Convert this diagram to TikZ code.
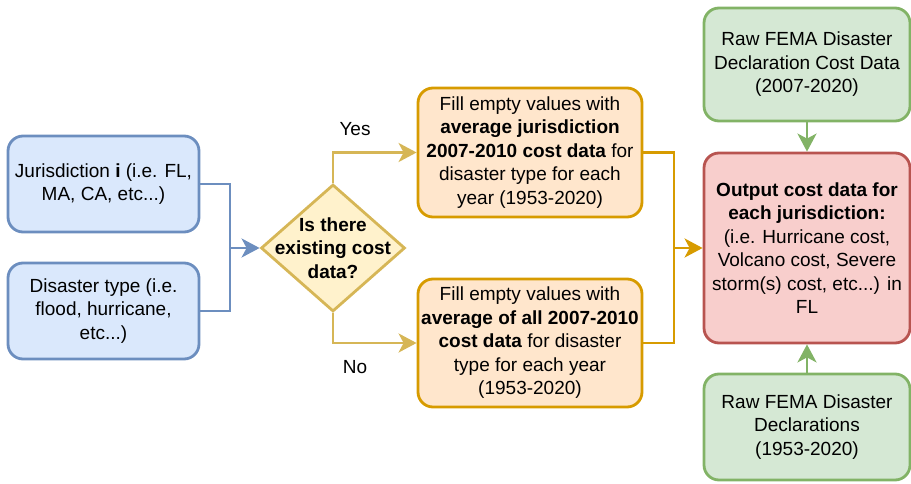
\documentclass[tikz,border=0pt]{standalone}
\usepackage{fontspec}
\setmainfont{Liberation Sans}
\usepackage{tikz}
\usetikzlibrary{shapes.geometric,arrows.meta,positioning,calc}
\usepackage{xcolor}
\definecolor{blueFill}{HTML}{DAE8FC}
\definecolor{blueLine}{HTML}{6C8EBF}
\definecolor{yellowFill}{HTML}{FFF2CC}
\definecolor{yellowLine}{HTML}{D6B656}
\definecolor{orangeFill}{HTML}{FFE6CC}
\definecolor{orangeLine}{HTML}{D79B00}
\definecolor{greenFill}{HTML}{D5E8D4}
\definecolor{greenLine}{HTML}{82B366}
\definecolor{redFill}{HTML}{F8CECC}
\definecolor{redLine}{HTML}{B85450}

\begin{document}
\begin{tikzpicture}[x=1pt, y=-1pt,
    >={Stealth[length=18pt,width=19pt,inset=5pt]},
    every node/.style={font=\fontsize{19}{23.5}\selectfont, align=center},
    box/.style={draw, rectangle, rounded corners=15pt, line width=2.8pt, inner sep=0pt},
    link/.style={line width=2.8pt}]
    \useasboundingbox (0,0) rectangle (911,484);

    % Inputs
    \node[box, draw=blueLine, fill=blueFill, minimum width=191pt, minimum height=96pt] (juris) at (103.5,184)
        {Jurisdiction \textbf{i} (i.e. FL,\\ MA, CA, etc...)};
    \node[box, draw=blueLine, fill=blueFill, minimum width=191pt, minimum height=96pt] (dtype) at (103.5,311)
        {Disaster type (i.e.\\ flood, hurricane,\\ etc...)};

    % Decision
    \node[diamond, draw=yellowLine, fill=yellowFill, line width=2.8pt, inner sep=0pt,
        minimum width=144pt, minimum height=127pt] (decide) at (333,248) {};
    \node (question) at (decide.center) {\textbf{Is there}\\ \textbf{existing cost}\\ \textbf{data?}};

    % Fill steps
    \node[box, draw=orangeLine, fill=orangeFill, minimum width=224pt, minimum height=129pt] (fillA) at (530,152.5)
        {Fill empty values with\\ \textbf{average jurisdiction}\\ \textbf{2007-2010 cost data} for\\ disaster type for each\\ year (1953-2020)};
    \node[box, draw=orangeLine, fill=orangeFill, minimum width=224pt, minimum height=128pt] (fillB) at (530,343)
        {Fill empty values with\\ \textbf{average of all 2007-2010}\\ \textbf{cost data} for disaster\\ type for each year\\ (1953-2020)};

    % Output and raw data
    \node[box, draw=redLine, fill=redFill, minimum width=206pt, minimum height=190pt] (output) at (807,248)
        {\textbf{Output cost data for}\\ \textbf{each jurisdiction:}\\ (i.e. Hurricane cost,\\ Volcano cost, Severe\\ storm(s) cost, etc...) in\\ FL};
    \node[box, draw=greenLine, fill=greenFill, minimum width=206pt, minimum height=113pt] (femaCost) at (807,64.5)
        {Raw FEMA Disaster\\ Declaration Cost Data\\ (2007-2020)};
    \node[box, draw=greenLine, fill=greenFill, minimum width=206pt, minimum height=106pt] (femaDecl) at (807,427)
        {Raw FEMA Disaster\\ Declarations\\ (1953-2020)};

    % Blue connectors
    \coordinate (merge) at (230,248);
    \draw[link, blueLine] (juris.east) -| (merge);
    \draw[link, blueLine] (dtype.east) -| (merge);
    \draw[link, blueLine, ->] (merge) -- (decide.west);

    % Yes / No branches
    \draw[link, yellowLine, ->] (decide.north) |- (fillA.west);
    \draw[link, yellowLine, ->] (decide.south) |- (fillB.west);
    \node (yes) at (355,129) {Yes};
    \node (no) at (355,367) {No};

    % Orange connectors
    \coordinate (join) at (674,248);
    \draw[link, orangeLine] (fillA.east) -| (join);
    \draw[link, orangeLine] (fillB.east) -| (join);
    \draw[link, orangeLine, ->] (join) -- (output.west);

    % Green connectors
    \draw[link, greenLine, ->] (femaCost.south) -- (output.north);
    \draw[link, greenLine, ->] (femaDecl.north) -- (output.south);
\end{tikzpicture}
\end{document}
